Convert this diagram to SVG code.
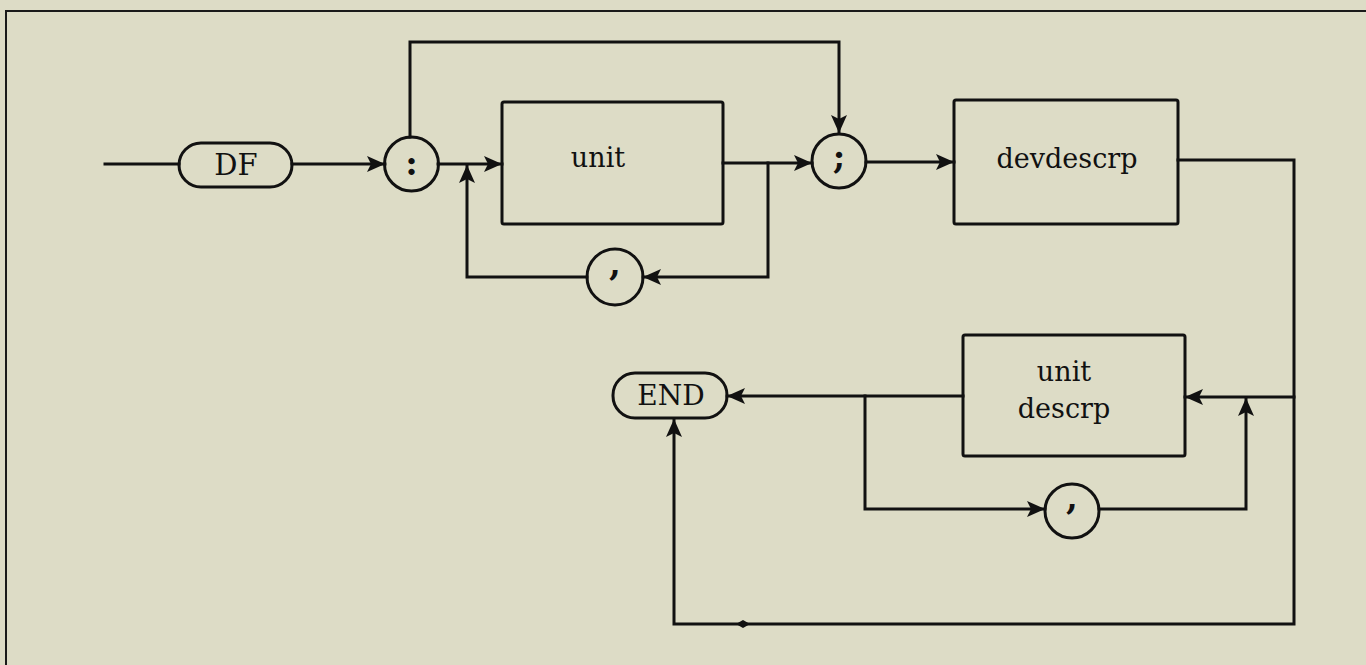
<svg xmlns="http://www.w3.org/2000/svg" width="1366" height="665" viewBox="0 0 1366 665">
<defs>
<marker id="ah" markerUnits="userSpaceOnUse" markerWidth="20" markerHeight="20" viewBox="0 0 20 20" refX="19" refY="10" orient="auto">
<path d="M1,2 L19,10 L1,18 L5,10 Z" fill="#111"/>
</marker>
</defs>
<style>
.ln{fill:none;stroke:#111;stroke-width:3;stroke-linejoin:miter;stroke-linecap:square}
.bx{fill:none;stroke:#111;stroke-width:3}
.tx{font-family:"DejaVu Serif","Liberation Serif",serif;font-size:27px;fill:#111;text-anchor:middle}
.pt{font-family:"DejaVu Serif","Liberation Serif",serif;font-size:34px;font-weight:bold;fill:#111;text-anchor:middle}
</style>
<rect width="1366" height="665" fill="#dddcc6"/>
<path d="M6,665 L6,11 L1366,11" fill="none" stroke="#1a1a1a" stroke-width="2"/>

<g id="connectors">
<path class="ln" d="M105,164 L179,164"/>
<path class="ln" d="M292,164 L385,164" marker-end="url(#ah)"/>
<path class="ln" d="M438,164 L502,164" marker-end="url(#ah)"/>
<path class="ln" d="M410,137 L410,42 L839,42 L839,133" marker-end="url(#ah)"/>
<path class="ln" d="M723,163 L812,163" marker-end="url(#ah)"/>
<path class="ln" d="M768,163 L768,277 L643,277" marker-end="url(#ah)"/>
<path class="ln" d="M587,277 L467,277 L467,165" marker-end="url(#ah)"/>
<path class="ln" d="M866,162 L954,162" marker-end="url(#ah)"/>
<path class="ln" d="M1178,160 L1294,160 L1294,624 L674,624 L674,419" marker-end="url(#ah)"/>
<path class="ln" d="M1294,397 L1185,397" marker-end="url(#ah)"/>
<path class="ln" d="M1099,509 L1246,509 L1246,398" marker-end="url(#ah)"/>
<path class="ln" d="M963,396 L727,396" marker-end="url(#ah)"/>
<path class="ln" d="M865,396 L865,509 L1045,509" marker-end="url(#ah)"/>
<path d="M736,624 L743,620 L750,624 L743,628 Z" fill="#111"/>
</g>

<g id="DF">
<rect class="bx" x="179" y="143" width="113" height="44" rx="22"/>
<text class="tx" x="236" y="175" style="font-size:29px">DF</text>
</g>
<g id="colon">
<circle class="bx" cx="411.5" cy="164" r="27"/>
<text class="pt" x="411.5" y="175">:</text>
</g>
<g id="unit">
<rect class="bx" x="502" y="102" width="221" height="122" rx="2"/>
<text class="tx" x="598" y="167">unit</text>
</g>
<g id="comma1">
<circle class="bx" cx="615" cy="277" r="28"/>
<text class="pt" x="615" y="275">,</text>
</g>
<g id="semicolon">
<circle class="bx" cx="839" cy="161" r="27"/>
<text class="pt" x="839" y="168">;</text>
</g>
<g id="devdescrp">
<rect class="bx" x="954" y="100" width="224" height="124" rx="2"/>
<text class="tx" x="1067" y="168">devdescrp</text>
</g>
<g id="unitdescrp">
<rect class="bx" x="963" y="335" width="222" height="121" rx="2"/>
<text class="tx" x="1064" y="381">unit</text>
<text class="tx" x="1064" y="418">descrp</text>
</g>
<g id="comma2">
<circle class="bx" cx="1072" cy="511" r="27"/>
<text class="pt" x="1072" y="509">,</text>
</g>
<g id="END">
<rect class="bx" x="613" y="373" width="114" height="45" rx="22"/>
<text class="tx" x="671" y="405" style="font-size:28px">END</text>
</g>
</svg>
